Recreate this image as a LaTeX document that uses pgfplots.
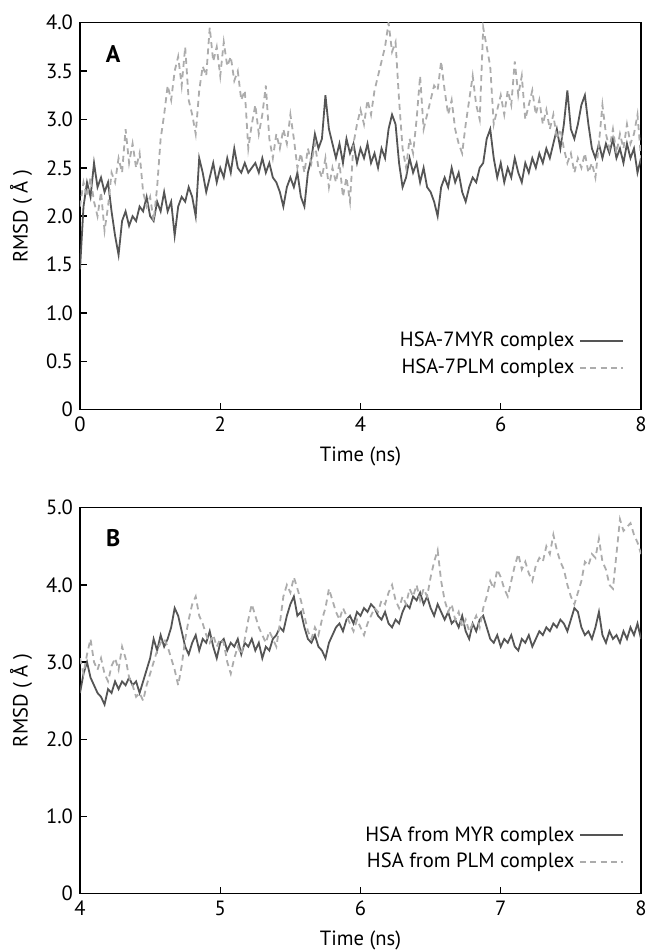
\documentclass[border=0pt]{standalone}
\usepackage{pgfplots}
\pgfplotsset{compat=1.18}
\usepackage{fontspec}
\setmainfont{PT Sans}

\definecolor{darkline}{RGB}{85,85,85}
\definecolor{lightline}{RGB}{172,172,172}

\pgfplotsset{
  rmsd/.style={
    scale only axis,
    width=280.5pt,
    axis line style={line width=0.7pt},
    tick align=inside,
    xtick pos=lower,
    ytick pos=left,
    major tick length=3.5pt,
    tick style={line width=0.7pt, black},
    every axis y label/.style={at={(axis description cs:-0.105,0.5)}, rotate=90, anchor=center},
    every axis x label/.style={at={(axis description cs:0.5,-0.121)}, anchor=center},
    ylabel={RMSD ( Å )},
    xlabel={Time (ns)},
    legend plot pos=right,
    legend cell align=right,
    legend image code/.code={\draw[##1] (0pt,0pt) -- (21.5pt,0pt);},
    legend style={draw=none, fill=none, inner sep=0pt, row sep=0.5pt,
      nodes={inner xsep=2.25pt, inner ysep=2pt}},
  },
  dark/.style={darkline, line width=0.9pt, no markers},
  light/.style={lightline, line width=0.9pt, dash pattern=on 3pt off 2.2pt, no markers},
}

\begin{document}
\begin{tikzpicture}[font=\fontsize{10.3}{12.3}\selectfont]
\useasboundingbox (-40pt,11.35pt) rectangle (283.5pt,-464.15pt);

% panel A
\begin{axis}[rmsd,
  at={(0,0)}, anchor=north west,
  height=193.5pt,
  xmin=0, xmax=8, ymin=0, ymax=4,
  xtick={0,2,4,6,8}, xticklabels={0,2,4,6,8},
  ytick={0,0.5,1,1.5,2,2.5,3,3.5,4},
  yticklabels={0,0.5,1.0,1.5,2.0,2.5,3.0,3.5,4.0},
  legend style={at={(axis description cs:0.970,0.143)}, anchor=east},
]
\addplot[dark] coordinates {
(0.00,1.45) (0.05,2.10) (0.10,2.35) (0.15,2.20) (0.20,2.55) (0.25,2.30) (0.30,2.40) (0.35,2.25)
(0.40,2.35) (0.45,2.05) (0.50,1.80) (0.55,1.60) (0.60,1.95) (0.65,2.05) (0.70,1.90) (0.75,2.00)
(0.80,1.95) (0.85,2.10) (0.90,2.05) (0.95,2.20) (1.00,2.00) (1.05,1.95) (1.10,2.15) (1.15,2.05)
(1.20,2.25) (1.25,2.05) (1.30,2.15) (1.35,1.80) (1.40,2.10) (1.45,2.20) (1.50,2.15) (1.55,2.30)
(1.60,2.20) (1.65,2.00) (1.70,2.60) (1.75,2.45) (1.80,2.25) (1.85,2.40) (1.90,2.55) (1.95,2.35)
(2.00,2.50) (2.05,2.40) (2.10,2.60) (2.15,2.45) (2.20,2.70) (2.25,2.50) (2.30,2.45) (2.35,2.55)
(2.40,2.45) (2.45,2.50) (2.50,2.55) (2.55,2.45) (2.60,2.60) (2.65,2.45) (2.70,2.55) (2.75,2.40)
(2.80,2.35) (2.85,2.25) (2.90,2.10) (2.95,2.30) (3.00,2.40) (3.05,2.30) (3.10,2.45) (3.15,2.20)
(3.20,2.10) (3.25,2.45) (3.30,2.60) (3.35,2.85) (3.40,2.70) (3.45,2.80) (3.50,3.25) (3.55,2.90)
(3.60,2.75) (3.65,2.60) (3.70,2.75) (3.75,2.55) (3.80,2.80) (3.85,2.65) (3.90,2.75) (3.95,2.55)
(4.00,2.70) (4.05,2.60) (4.10,2.75) (4.15,2.55) (4.20,2.65) (4.25,2.50) (4.30,2.70) (4.35,2.60)
(4.40,2.90) (4.45,3.05) (4.50,2.95) (4.55,2.55) (4.60,2.30) (4.65,2.40) (4.70,2.60) (4.75,2.45)
(4.80,2.55) (4.85,2.35) (4.90,2.50) (4.95,2.30) (5.00,2.25) (5.05,2.15) (5.10,2.00) (5.15,2.30)
(5.20,2.40) (5.25,2.30) (5.30,2.50) (5.35,2.35) (5.40,2.45) (5.45,2.25) (5.50,2.15) (5.55,2.30)
(5.60,2.40) (5.65,2.35) (5.70,2.50) (5.75,2.55) (5.80,2.80) (5.85,2.90) (5.90,2.60) (5.95,2.40)
(6.00,2.55) (6.05,2.35) (6.10,2.50) (6.15,2.40) (6.20,2.60) (6.25,2.45) (6.30,2.35) (6.35,2.55)
(6.40,2.45) (6.45,2.60) (6.50,2.50) (6.55,2.65) (6.60,2.55) (6.65,2.70) (6.70,2.60) (6.75,2.75)
(6.80,2.90) (6.85,2.70) (6.90,2.95) (6.95,3.30) (7.00,2.90) (7.05,2.80) (7.10,2.95) (7.15,3.15)
(7.20,3.25) (7.25,2.95) (7.30,2.70) (7.35,2.60) (7.40,2.75) (7.45,2.60) (7.50,2.75) (7.55,2.65)
(7.60,2.80) (7.65,2.60) (7.70,2.70) (7.75,2.55) (7.80,2.75) (7.85,2.60) (7.90,2.70) (7.95,2.45)
(8.00,2.60)
};
\addlegendentry{HSA-7MYR complex}
\addplot[light] coordinates {
(0.00,2.10) (0.05,2.35) (0.10,2.20) (0.15,2.40) (0.20,2.15) (0.25,2.00) (0.30,2.25) (0.35,1.85)
(0.40,2.10) (0.45,2.45) (0.50,2.35) (0.55,2.60) (0.60,2.45) (0.65,2.90) (0.70,2.55) (0.75,2.75)
(0.80,2.50) (0.85,2.65) (0.90,2.25) (0.95,2.10) (1.00,2.20) (1.05,1.95) (1.10,2.30) (1.15,2.80)
(1.20,3.05) (1.25,3.35) (1.30,3.20) (1.35,3.50) (1.40,3.65) (1.45,3.35) (1.50,3.75) (1.55,3.20)
(1.60,3.05) (1.65,2.85) (1.70,3.30) (1.75,3.55) (1.80,3.45) (1.85,3.95) (1.90,3.60) (1.95,3.75)
(2.00,3.45) (2.05,3.80) (2.10,3.55) (2.15,3.65) (2.20,3.40) (2.25,3.50) (2.30,3.20) (2.35,3.30)
(2.40,2.70) (2.45,2.95) (2.50,3.15) (2.55,2.85) (2.60,3.05) (2.65,3.35) (2.70,2.80) (2.75,2.60)
(2.80,2.85) (2.85,2.70) (2.90,2.90) (2.95,2.75) (3.00,3.05) (3.05,2.80) (3.10,2.50) (3.15,2.65)
(3.20,2.45) (3.25,2.70) (3.30,2.55) (3.35,2.75) (3.40,2.50) (3.45,2.40) (3.50,2.60) (3.55,2.30)
(3.60,2.50) (3.65,2.35) (3.70,2.55) (3.75,2.20) (3.80,2.40) (3.85,2.15) (3.90,2.75) (3.95,2.95)
(4.00,3.10) (4.05,2.95) (4.10,3.20) (4.15,3.05) (4.20,3.30) (4.25,3.45) (4.30,3.60) (4.35,3.75)
(4.40,4.00) (4.45,3.70) (4.50,3.80) (4.55,3.20) (4.60,2.70) (4.65,2.50) (4.70,2.80) (4.75,2.65)
(4.80,3.00) (4.85,3.45) (4.90,2.90) (4.95,3.05) (5.00,3.20) (5.05,3.35) (5.10,3.30) (5.15,3.60)
(5.20,3.30) (5.25,3.05) (5.30,3.20) (5.35,2.90) (5.40,2.75) (5.45,2.65) (5.50,2.95) (5.55,3.20)
(5.60,3.45) (5.65,3.15) (5.70,3.00) (5.75,3.95) (5.80,3.75) (5.85,3.55) (5.90,2.95) (5.95,3.10)
(6.00,3.25) (6.05,3.05) (6.10,3.30) (6.15,3.15) (6.20,3.60) (6.25,3.25) (6.30,3.45) (6.35,3.00)
(6.40,3.15) (6.45,3.30) (6.50,3.05) (6.55,3.20) (6.60,2.95) (6.65,3.10) (6.70,2.90) (6.75,3.05)
(6.80,2.80) (6.85,2.90) (6.90,2.70) (6.95,2.55) (7.00,2.65) (7.05,2.45) (7.10,2.60) (7.15,2.50)
(7.20,2.65) (7.25,2.45) (7.30,2.55) (7.35,2.40) (7.40,2.75) (7.45,3.15) (7.50,2.85) (7.55,2.70)
(7.60,2.90) (7.65,2.65) (7.70,2.85) (7.75,2.70) (7.80,2.95) (7.85,2.75) (7.90,2.85) (7.95,3.05)
(8.00,2.60)
};
\addlegendentry{HSA-7PLM complex}
\node[font=\fontsize{12}{14}\bfseries\selectfont] at (rel axis cs:0.059,0.92) {A};
\end{axis}

% panel B
\begin{axis}[rmsd,
  at={(0,-242.5pt)}, anchor=north west,
  height=193pt,
  xmin=4, xmax=8, ymin=0, ymax=5,
  xtick={4,5,6,7,8}, xticklabels={4,5,6,7,8},
  ytick={0,1,2,3,4,5},
  yticklabels={0,1.0,2.0,3.0,4.0,5.0},
  legend style={at={(axis description cs:0.970,0.117)}, anchor=east},
]
\addplot[dark] coordinates {
(4.000,2.60) (4.025,2.85) (4.050,3.00) (4.075,2.80) (4.100,2.70) (4.125,2.60) (4.150,2.55) (4.175,2.45)
(4.200,2.65) (4.225,2.60) (4.250,2.75) (4.275,2.65) (4.300,2.75) (4.325,2.70) (4.350,2.80) (4.375,2.70)
(4.400,2.75) (4.425,2.60) (4.450,2.75) (4.475,2.90) (4.500,3.05) (4.525,3.30) (4.550,3.15) (4.575,3.35)
(4.600,3.20) (4.625,3.30) (4.650,3.45) (4.675,3.70) (4.700,3.60) (4.725,3.40) (4.750,3.20) (4.775,3.10)
(4.800,3.25) (4.825,3.35) (4.850,3.15) (4.875,3.30) (4.900,3.25) (4.925,3.40) (4.950,3.20) (4.975,3.05)
(5.000,3.25) (5.025,3.30) (5.050,3.15) (5.075,3.25) (5.100,3.20) (5.125,3.30) (5.150,3.10) (5.175,3.25)
(5.200,3.20) (5.225,3.30) (5.250,3.15) (5.275,3.25) (5.300,3.05) (5.325,3.20) (5.350,3.15) (5.375,3.30)
(5.400,3.35) (5.425,3.45) (5.450,3.40) (5.475,3.60) (5.500,3.75) (5.525,3.85) (5.550,3.60) (5.575,3.65)
(5.600,3.45) (5.625,3.30) (5.650,3.25) (5.675,3.35) (5.700,3.20) (5.725,3.15) (5.750,3.05) (5.775,3.25)
(5.800,3.35) (5.825,3.45) (5.850,3.50) (5.875,3.40) (5.900,3.55) (5.925,3.60) (5.950,3.50) (5.975,3.65)
(6.000,3.60) (6.025,3.70) (6.050,3.65) (6.075,3.75) (6.100,3.70) (6.125,3.60) (6.150,3.55) (6.175,3.65)
(6.200,3.50) (6.225,3.45) (6.250,3.55) (6.275,3.50) (6.300,3.65) (6.325,3.75) (6.350,3.70) (6.375,3.85)
(6.400,3.80) (6.425,3.90) (6.450,3.75) (6.475,3.85) (6.500,3.70) (6.525,3.60) (6.550,3.75) (6.575,3.65)
(6.600,3.55) (6.625,3.65) (6.650,3.50) (6.675,3.55) (6.700,3.45) (6.725,3.60) (6.750,3.40) (6.775,3.30)
(6.800,3.50) (6.825,3.40) (6.850,3.55) (6.875,3.60) (6.900,3.45) (6.925,3.30) (6.950,3.25) (6.975,3.35)
(7.000,3.20) (7.025,3.30) (7.050,3.25) (7.075,3.35) (7.100,3.20) (7.125,3.15) (7.150,3.30) (7.175,3.25)
(7.200,3.35) (7.225,3.20) (7.250,3.30) (7.275,3.40) (7.300,3.35) (7.325,3.45) (7.350,3.40) (7.375,3.50)
(7.400,3.45) (7.425,3.55) (7.450,3.50) (7.475,3.40) (7.500,3.55) (7.525,3.70) (7.550,3.65) (7.575,3.45)
(7.600,3.35) (7.625,3.40) (7.650,3.30) (7.675,3.45) (7.700,3.65) (7.725,3.35) (7.750,3.25) (7.775,3.40)
(7.800,3.30) (7.825,3.35) (7.850,3.25) (7.875,3.40) (7.900,3.30) (7.925,3.45) (7.950,3.35) (7.975,3.50)
(8.000,3.30)
};
\addlegendentry{HSA from MYR complex}
\addplot[light] coordinates {
(4.000,3.05) (4.025,2.85) (4.050,3.10) (4.075,3.30) (4.100,3.00) (4.125,2.90) (4.150,3.05) (4.175,2.85)
(4.200,2.75) (4.225,2.95) (4.250,3.05) (4.275,2.90) (4.300,3.20) (4.325,3.05) (4.350,2.80) (4.375,2.70)
(4.400,2.55) (4.425,2.60) (4.450,2.50) (4.475,2.70) (4.500,2.85) (4.525,3.00) (4.550,3.15) (4.575,3.25)
(4.600,3.30) (4.625,3.20) (4.650,3.05) (4.675,2.90) (4.700,2.70) (4.725,2.95) (4.750,3.30) (4.775,3.55)
(4.800,3.75) (4.825,3.85) (4.850,3.60) (4.875,3.50) (4.900,3.35) (4.925,3.25) (4.950,3.35) (4.975,3.20)
(5.000,3.30) (5.025,3.25) (5.050,3.00) (5.075,2.85) (5.100,3.05) (5.125,3.20) (5.150,3.10) (5.175,3.30)
(5.200,3.55) (5.225,3.75) (5.250,3.60) (5.275,3.45) (5.300,3.35) (5.325,3.25) (5.350,3.40) (5.375,3.30)
(5.400,3.20) (5.425,3.50) (5.450,3.85) (5.475,4.00) (5.500,3.90) (5.525,4.10) (5.550,3.95) (5.575,3.80)
(5.600,3.60) (5.625,3.40) (5.650,3.30) (5.675,3.45) (5.700,3.35) (5.725,3.55) (5.750,3.70) (5.775,3.95)
(5.800,3.80) (5.825,3.65) (5.850,3.55) (5.875,3.70) (5.900,3.60) (5.925,3.50) (5.950,3.40) (5.975,3.55)
(6.000,3.45) (6.025,3.35) (6.050,3.50) (6.075,3.60) (6.100,3.70) (6.125,3.65) (6.150,3.80) (6.175,3.75)
(6.200,3.90) (6.225,4.00) (6.250,3.80) (6.275,3.70) (6.300,3.85) (6.325,3.75) (6.350,3.95) (6.375,3.85)
(6.400,4.00) (6.425,3.80) (6.450,3.95) (6.475,3.85) (6.500,4.10) (6.525,4.30) (6.550,4.45) (6.575,4.05)
(6.600,3.80) (6.625,3.65) (6.650,3.75) (6.675,3.55) (6.700,3.65) (6.725,3.45) (6.750,3.55) (6.775,3.40)
(6.800,3.50) (6.825,3.60) (6.850,3.45) (6.875,3.70) (6.900,3.85) (6.925,4.05) (6.950,3.95) (6.975,4.20)
(7.000,4.10) (7.025,3.95) (7.050,3.85) (7.075,4.05) (7.100,4.25) (7.125,4.40) (7.150,4.20) (7.175,4.30)
(7.200,4.15) (7.225,4.05) (7.250,4.25) (7.275,4.35) (7.300,4.30) (7.325,4.50) (7.350,4.40) (7.375,4.65)
(7.400,4.45) (7.425,4.30) (7.450,4.20) (7.475,4.00) (7.500,3.85) (7.525,3.75) (7.550,3.90) (7.575,4.05)
(7.600,4.30) (7.625,4.25) (7.650,4.40) (7.675,4.35) (7.700,4.60) (7.725,4.30) (7.750,4.20) (7.775,4.00)
(7.800,3.95) (7.825,4.40) (7.850,4.85) (7.875,4.70) (7.900,4.75) (7.925,4.80) (7.950,4.65) (7.975,4.55)
(8.000,4.40)
};
\addlegendentry{HSA from PLM complex}
\node[font=\fontsize{12}{14}\bfseries\selectfont] at (rel axis cs:0.059,0.92) {B};
\end{axis}
\end{tikzpicture}
\end{document}
